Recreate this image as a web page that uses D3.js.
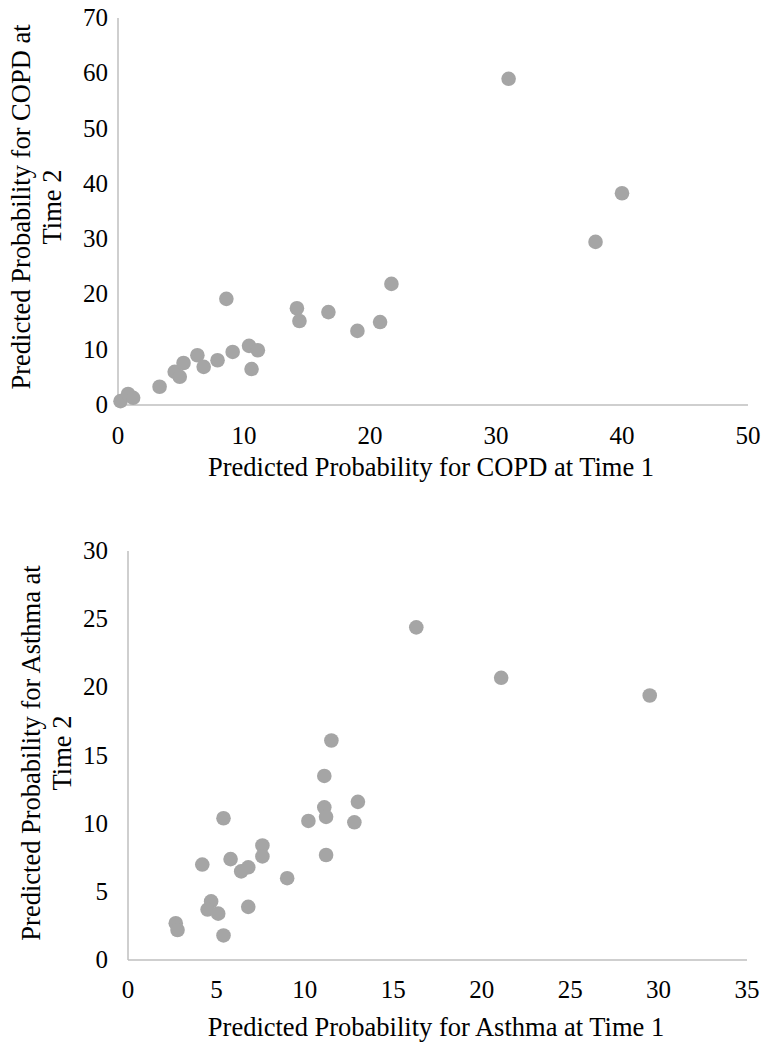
<!DOCTYPE html>
<html>
<head>
<meta charset="utf-8">
<script src="https://cdn.jsdelivr.net/npm/d3@7"></script>
<style>
  html, body { margin: 0; padding: 0; background: #fff; }
  svg { display: block; }
  text { font-family: "Liberation Serif", "Times New Roman", serif; fill: #000; }
</style>
</head>
<body>
<svg id="chart" width="762" height="1043"></svg>
<script>
// COPD: predicted probability at time 1 (x) vs time 2 (y)
const copdTime1 = [40.0, 37.9, 31.0, 21.7, 14.2, 14.4, 16.7, 19.0, 20.8, 8.6,
                   0.2, 0.8, 1.2, 3.3, 4.5, 4.9, 5.2, 6.3, 6.8, 7.9, 9.1, 10.4, 11.1, 10.6];
const copdTime2 = [38.3, 29.5, 59.0, 21.9, 17.5, 15.2, 16.8, 13.4, 15.0, 19.2,
                   0.7, 2.0, 1.3, 3.3, 6.0, 5.1, 7.6, 9.0, 6.9, 8.1, 9.6, 10.7, 9.9, 6.5];

// Asthma: predicted probability at time 1 (x) vs time 2 (y)
const asthmaTime1 = [16.3, 21.1, 29.5, 11.5, 11.1, 11.1, 11.2, 13.0, 10.2, 12.8, 5.4,
                     7.6, 7.6, 5.8, 4.2, 6.4, 6.8, 11.2, 9.0, 4.7, 4.5, 5.1, 6.8, 2.7, 2.8, 5.4];
const asthmaTime2 = [24.4, 20.7, 19.4, 16.1, 13.5, 11.2, 10.5, 11.6, 10.2, 10.1, 10.4,
                     8.4, 7.6, 7.4, 7.0, 6.5, 6.8, 7.7, 6.0, 4.3, 3.7, 3.4, 3.9, 2.7, 2.2, 1.8];

const copdXTicks = [0, 10, 20, 30, 40, 50];
const copdYTicks = [0, 10, 20, 30, 40, 50, 60, 70];
const asthmaXTicks = [0, 5, 10, 15, 20, 25, 30, 35];
const asthmaYTicks = [0, 5, 10, 15, 20, 25, 30];

const svg = d3.select("#chart");

function scatter(cfg) {
  const x = d3.scaleLinear().domain(cfg.xDomain).range([cfg.left, cfg.right]);
  const y = d3.scaleLinear().domain(cfg.yDomain).range([cfg.bottom, cfg.top]);
  const g = svg.append("g");

  // axis lines
  g.append("line")
    .attr("x1", cfg.left).attr("x2", cfg.left)
    .attr("y1", cfg.top).attr("y2", cfg.bottom)
    .attr("stroke", "#bfbfbf").attr("stroke-width", 1.5);
  g.append("line")
    .attr("x1", cfg.left).attr("x2", cfg.right)
    .attr("y1", cfg.bottom).attr("y2", cfg.bottom)
    .attr("stroke", "#bfbfbf").attr("stroke-width", 1.5);

  // tick labels
  g.selectAll(".xt").data(cfg.xTicks).join("text")
    .attr("x", d => x(d)).attr("y", cfg.bottom + cfg.xTickDy)
    .attr("text-anchor", "middle").attr("font-size", 25)
    .text(d => d);
  g.selectAll(".yt").data(cfg.yTicks).join("text")
    .attr("x", cfg.yLabelRight).attr("y", d => y(d) + 8)
    .attr("text-anchor", "end").attr("font-size", 25)
    .text(d => d);

  // axis titles
  g.append("text")
    .attr("x", cfg.xTitleX).attr("y", cfg.bottom + cfg.xTitleDy)
    .attr("text-anchor", "middle").attr("font-size", 26.5)
    .text(cfg.xTitle);
  const yt = g.append("text")
    .attr("transform", `translate(${cfg.yTitleX},${cfg.yTitleY}) rotate(-90)`)
    .attr("text-anchor", "middle").attr("font-size", 26.5);
  cfg.yTitle.forEach((line, i) => {
    yt.append("tspan").attr("x", 0).attr("dy", i === 0 ? 0 : 31).text(line);
  });

  // points
  g.selectAll("circle").data(cfg.xs.map((v, i) => [v, cfg.ys[i]])).join("circle")
    .attr("cx", d => x(d[0])).attr("cy", d => y(d[1]))
    .attr("r", 7.3).attr("fill", "#a5a5a5");
}

scatter({
  xs: copdTime1, ys: copdTime2,
  xDomain: [0, 50], yDomain: [0, 70],
  xTicks: copdXTicks, yTicks: copdYTicks,
  left: 118, right: 748, top: 18, bottom: 405,
  yLabelRight: 108, xTickDy: 39,
  xTitle: "Predicted Probability for COPD at Time 1", xTitleX: 431, xTitleDy: 71,
  yTitle: ["Predicted Probability for COPD at", "Time 2"],
  yTitleX: 30, yTitleY: 207
});

scatter({
  xs: asthmaTime1, ys: asthmaTime2,
  xDomain: [0, 35], yDomain: [0, 30],
  xTicks: asthmaXTicks, yTicks: asthmaYTicks,
  left: 128, right: 747, top: 551, bottom: 960,
  yLabelRight: 108, xTickDy: 38,
  xTitle: "Predicted Probability for Asthma at Time 1", xTitleX: 436, xTitleDy: 76,
  yTitle: ["Predicted Probability for Asthma at", "Time 2"],
  yTitleX: 40, yTitleY: 753
});
</script>
</body>
</html>
